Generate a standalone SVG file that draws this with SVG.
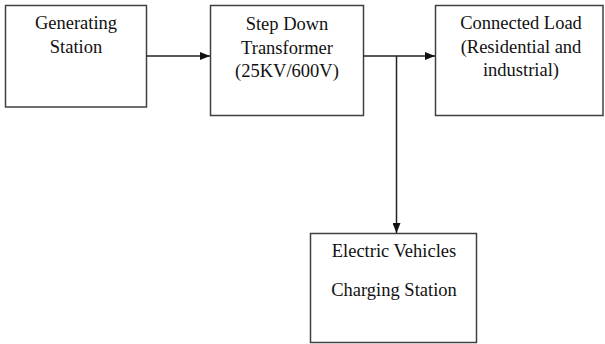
<svg xmlns="http://www.w3.org/2000/svg" width="605" height="344" viewBox="0 0 605 344">
<style>
.box{fill:#fff;stroke:#404040;stroke-width:1.5}
.t{font-family:"Liberation Serif","Times New Roman",serif;font-size:18.5px;fill:#111;text-anchor:middle}
.c{fill:none;stroke:#222;stroke-width:1.5}
</style>
<defs>
<marker id="ah" markerWidth="10" markerHeight="8" refX="10" refY="4" orient="auto" markerUnits="userSpaceOnUse">
<path d="M0,0 L10,4 L0,8 Z" fill="#111"/>
</marker>
</defs>
<rect width="605" height="344" fill="#fff"/>
<g id="generating">
<rect class="box" x="5.5" y="5.5" width="141" height="101.5"/>
<text class="t" x="76" y="29">Generating</text>
<text class="t" x="76" y="53">Station</text>
</g>
<g id="transformer">
<rect class="box" x="210.5" y="5.5" width="153" height="110"/>
<text class="t" x="287" y="30">Step Down</text>
<text class="t" x="287" y="53.5">Transformer</text>
<text class="t" x="287" y="77">(25KV/600V)</text>
</g>
<g id="load">
<rect class="box" x="435.5" y="5.5" width="167.5" height="110"/>
<text class="t" x="521" y="29">Connected Load</text>
<text class="t" x="521" y="52.5">(Residential and</text>
<text class="t" x="521" y="76">industrial)</text>
</g>
<g id="ev">
<rect class="box" x="310.5" y="233.5" width="166" height="109"/>
<text class="t" x="394" y="257">Electric Vehicles</text>
<text class="t" x="394" y="296">Charging Station</text>
</g>
<g id="connectors">
<line class="c" x1="146.5" y1="56" x2="210" y2="56" marker-end="url(#ah)"/>
<line class="c" x1="363.5" y1="56" x2="435" y2="56" marker-end="url(#ah)"/>
<line class="c" x1="396.5" y1="56" x2="396.5" y2="233" marker-end="url(#ah)"/>
</g>
</svg>
